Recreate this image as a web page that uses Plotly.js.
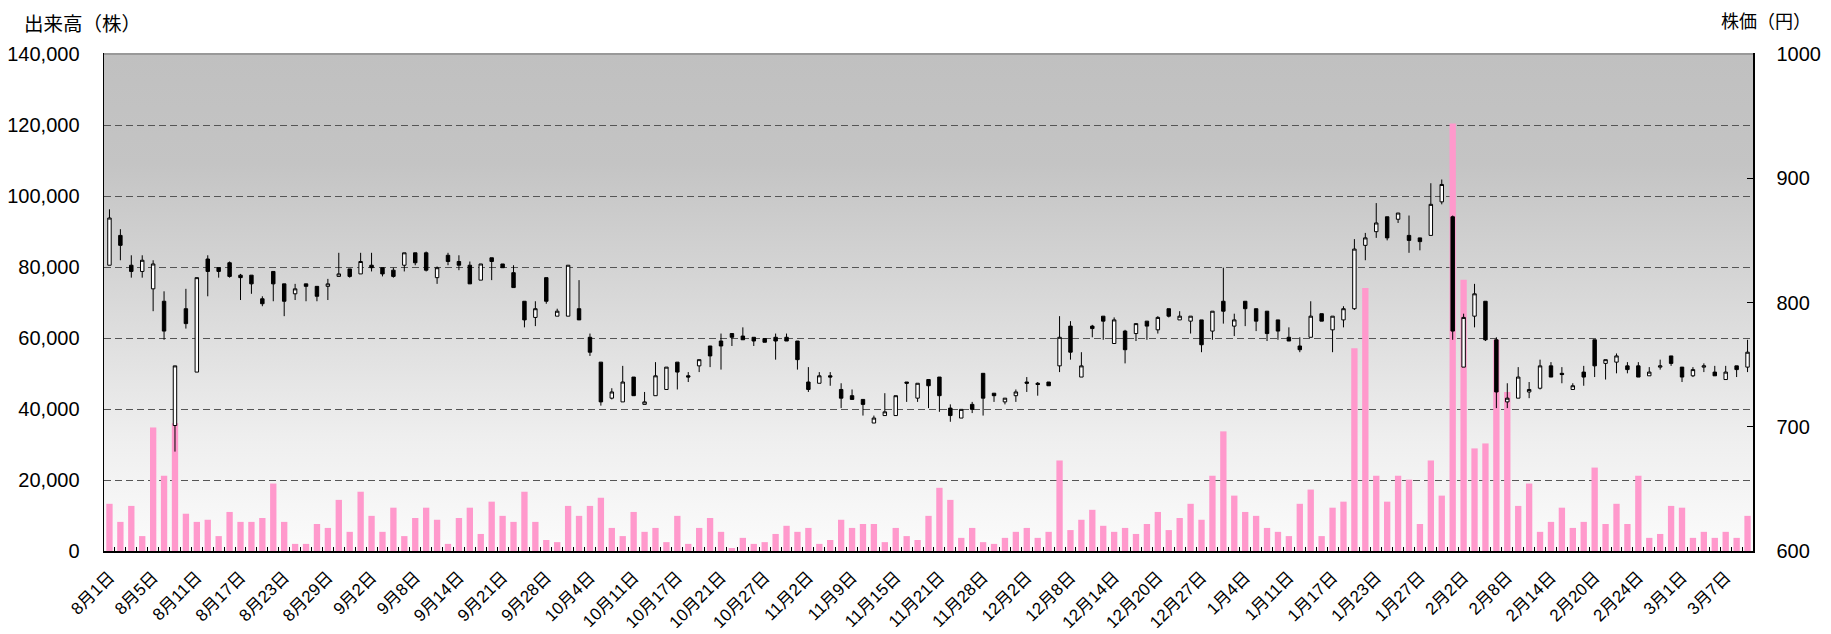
<!DOCTYPE html>
<html>
<head>
<meta charset="utf-8">
<script src="https://cdn.plot.ly/plotly-3.0.1.min.js"></script>
<style>html,body{margin:0;padding:0;background:#fff;}#chart{width:1831px;height:634px;}</style>
</head>
<body>
<div id="chart"></div>
<script>
// Trading days (Aug 2011 - Mar 2012)
const dates = [
"8月1日","8月2日","8月3日","8月4日","8月5日","8月8日","8月9日","8月10日","8月11日","8月12日",
"8月15日","8月16日","8月17日","8月18日","8月19日","8月22日","8月23日","8月24日","8月25日","8月26日",
"8月29日","8月30日","8月31日","9月1日","9月2日","9月5日","9月6日","9月7日","9月8日","9月9日",
"9月12日","9月13日","9月14日","9月15日","9月16日","9月20日","9月21日","9月22日","9月26日","9月27日",
"9月28日","9月29日","9月30日","10月3日","10月4日","10月5日","10月6日","10月7日","10月11日","10月12日",
"10月13日","10月14日","10月17日","10月18日","10月19日","10月20日","10月21日","10月24日","10月25日","10月26日",
"10月27日","10月28日","10月31日","11月1日","11月2日","11月4日","11月7日","11月8日","11月9日","11月10日",
"11月11日","11月14日","11月15日","11月16日","11月17日","11月18日","11月21日","11月22日","11月24日","11月25日",
"11月28日","11月29日","11月30日","12月1日","12月2日","12月5日","12月6日","12月7日","12月8日","12月9日",
"12月12日","12月13日","12月14日","12月15日","12月16日","12月19日","12月20日","12月21日","12月22日","12月26日",
"12月27日","12月28日","12月29日","12月30日","1月4日","1月5日","1月6日","1月10日","1月11日","1月12日",
"1月13日","1月16日","1月17日","1月18日","1月19日","1月20日","1月23日","1月24日","1月25日","1月26日",
"1月27日","1月30日","1月31日","2月1日","2月2日","2月3日","2月6日","2月7日","2月8日","2月9日",
"2月10日","2月13日","2月14日","2月15日","2月16日","2月17日","2月20日","2月21日","2月22日","2月23日",
"2月24日","2月27日","2月28日","2月29日","3月1日","3月2日","3月5日","3月6日","3月7日","3月8日",
"3月9日"
];
const openP = [
830,854,830,825,811,801,701,795,744,835, 828,832,822,822,803,825,815,807,815,813,
813,821,827,823,830,828,826,830,840,840, 820,838,833,830,818,836,831,824,801,788,
820,789,789,795,772,752,723,720,740,718, 725,730,752,741,749,765,769,775,773,772,
771,772,772,769,736,735,741,730,725,722, 703,709,709,736,723,738,740,715,707,718,
743,727,720,725,736,735,736,749,781,740, 781,789,767,777,775,785,778,795,786,785,
786,777,801,781,801,795,793,786,772,765, 772,791,778,786,795,846,857,869,867,854,
852,854,881,869,748,789,801,770,720,723, 728,731,749,743,730,744,770,751,752,749,
749,741,748,757,748,741,748,744,738,749, 748
];
const highP = [
875,859,838,838,834,809,749,811,820,838, 828,833,823,822,805,825,815,815,815,813,
819,840,827,840,840,828,828,840,840,841, 829,840,838,833,831,836,831,830,801,801,
820,795,830,818,775,752,731,749,740,728, 752,748,752,744,754,765,775,775,780,772,
771,775,775,769,748,744,744,735,730,722, 709,727,725,736,735,738,740,718,714,720,
743,727,723,730,740,736,736,789,785,760, 782,789,788,778,783,785,789,795,793,789,
786,793,828,791,801,795,793,786,780,772, 801,791,789,797,851,856,880,869,872,870,
852,896,899,870,791,815,801,772,735,748, 736,754,752,748,735,749,770,754,759,752,
752,748,754,757,748,748,751,749,749,749, 770
];
const lowP = [
830,834,820,820,793,770,680,779,744,805, 820,820,802,807,797,801,789,802,801,801,
802,821,820,823,825,821,820,825,830,825, 815,830,826,815,818,818,828,812,780,781,
799,789,789,786,757,717,722,720,725,718, 725,730,730,736,744,748,746,765,770,765,
768,754,769,746,728,735,733,715,722,709, 703,709,709,720,720,715,712,704,707,711,
709,720,718,720,728,725,733,744,754,740, 772,770,767,751,769,770,775,788,786,775,
760,770,783,773,781,777,769,770,769,760, 772,785,760,780,794,834,852,850,864,840,
842,854,879,770,748,780,769,715,715,723, 723,730,740,735,730,733,740,738,743,743,
740,741,746,749,736,740,744,741,738,740, 744
];
const closeP = [
868,846,825,834,831,777,749,783,820,825, 825,821,820,815,799,815,801,811,813,805,
815,823,821,833,828,823,821,840,832,826, 828,833,830,815,831,833,828,812,786,795,
801,793,830,786,760,720,728,736,725,720, 741,748,744,740,754,757,765,772,770,769,
768,769,769,754,730,741,740,723,722,718, 707,712,725,735,735,733,725,709,714,714,
723,725,723,728,735,734,733,772,760,749, 779,785,786,762,783,781,788,789,789,789,
766,793,793,786,795,785,775,777,769,762, 789,785,789,795,843,852,864,852,872,850,
849,879,895,777,788,807,770,728,723,740, 730,749,740,742,733,740,749,754,757,746,
740,744,749,751,740,746,749,741,744,746, 760
];
const volume = [
13300,8200,12700,4200,34800,21200,36000,10500,8200,8800, 4200,11000,8200,8200,9300,19000,8200,2000,2000,7600,
6500,14400,5400,16700,9900,5400,12200,4200,9300,12200, 8800,2000,9300,12200,4800,13900,9900,8200,16700,8200,
3100,2500,12700,9900,12700,15000,6500,4200,11000,5400, 6500,2500,9900,2000,6500,9300,5400,850,3700,2000,
2500,4800,7100,5400,6500,2000,3100,8800,6500,7600, 7600,2500,6500,4200,3100,9900,17800,14400,3700,6500,
2500,2000,3700,5400,6500,3700,5400,25500,5900,8800, 11600,7100,5400,6500,4800,7600,11000,5900,9300,13300,
8800,21200,33700,15600,11000,9900,6500,5400,4200,13300, 17300,4200,12200,13900,57100,74100,21200,13900,21200,20100,
7600,25500,15600,120400,76400,28900,30300,59500,44800,12700, 19000,5400,8200,12200,6500,8200,23500,7600,13300,7600,
21200,3700,4800,12700,12200,3700,5400,3700,5400,3700, 9900
];
const volTicks = [0,20000,40000,60000,80000,100000,120000,140000];
const priceTicks = [600,700,800,900,1000];
const volTitle = "出来高（株）";
const priceTitle = "株価（円）";

const FONT = "'Liberation Sans', 'Noto Sans CJK JP', sans-serif";
const gradSvg = "<svg xmlns='http://www.w3.org/2000/svg' width='100' height='100' preserveAspectRatio='none'>" +
  "<defs><linearGradient id='g' x1='0' y1='0' x2='0' y2='1'>" +
  "<stop offset='0' stop-color='#c0c0c0'/><stop offset='0.22' stop-color='#c4c4c4'/>" +
  "<stop offset='0.5' stop-color='#d9d9d9'/><stop offset='0.78' stop-color='#efefef'/>" +
  "<stop offset='1' stop-color='#fbfbfb'/></linearGradient></defs>" +
  "<rect width='100' height='100' fill='url(#g)'/></svg>";
const gradSrc = "data:image/svg+xml;base64," + btoa(gradSvg);

const volTrace = {
  type: "bar", x: dates, y: volume, xaxis: "x", yaxis: "y",
  marker: {color: "#ff99cc", line: {width: 0}}, hoverinfo: "skip", showlegend: false
};
const candleTrace = {
  type: "candlestick", x: dates, open: openP, high: highP, low: lowP, close: closeP,
  xaxis: "x", yaxis: "y2", whiskerwidth: 0, showlegend: false,
  increasing: {line: {color: "#000000", width: 1}, fillcolor: "#ffffff"},
  decreasing: {line: {color: "#000000", width: 1}, fillcolor: "#000000"}
};

const layout = {
  width: 1831, height: 634,
  margin: {l: 104, r: 78, t: 54, b: 83, pad: 0},
  paper_bgcolor: "#ffffff", plot_bgcolor: "rgba(0,0,0,0)",
  bargap: 0.42, boxgap: 0.55,
  font: {family: FONT, color: "#000", size: 20},
  showlegend: false,
  xaxis: {
    type: "category", range: [-0.5, dates.length - 0.5],
    tickvals: dates, ticktext: dates.map((d, i) => (i % 4 === 0 ? d : "")),
    tickangle: -45, tickfont: {size: 17, family: FONT}, ticklabelstandoff: 8,
    ticks: "inside", ticklen: 4, tickcolor: "#000", tickson: "boundaries",
    showgrid: false, showline: true, linecolor: "#000", linewidth: 1.5, mirror: true,
    rangeslider: {visible: false}, fixedrange: true
  },
  yaxis: {
    range: [0, 140000], tickvals: volTicks, ticktext: volTicks.map(v => v.toLocaleString("en-US")),
    showgrid: true, gridcolor: "#555555", gridwidth: 1, griddash: "7px,4px",
    zeroline: false, ticks: "", ticklabelstandoff: 19, tickfont: {size: 20},
    showline: true, linecolor: "#000", linewidth: 1.5, fixedrange: true
  },
  yaxis2: {
    overlaying: "y", side: "right", range: [600, 1000], tickvals: priceTicks,
    showgrid: false, zeroline: false, ticks: "inside", ticklen: 6, tickcolor: "#000",
    ticklabelstandoff: 18, tickfont: {size: 20},
    showline: true, linecolor: "#000", linewidth: 1.5, fixedrange: true
  },
  images: [{
    source: gradSrc, xref: "paper", yref: "paper", x: 0, y: 1, sizex: 1, sizey: 1,
    xanchor: "left", yanchor: "top", sizing: "stretch", layer: "below"
  }],
  shapes: [
    {type: "line", xref: "paper", yref: "paper", x0: 0, x1: 1, y0: 1, y1: 1,
     line: {color: "#999999", width: 2}, layer: "above"}
  ],
  annotations: [
    {text: volTitle, xref: "paper", yref: "paper", x: -0.05, y: 1.064, xanchor: "left", yanchor: "middle",
     showarrow: false, font: {size: 19.5, family: "'Noto Sans CJK JP', sans-serif"}},
    {text: priceTitle, xref: "paper", yref: "paper", x: 1.0364, y: 1.068, xanchor: "right", yanchor: "middle",
     showarrow: false, font: {size: 18, family: "'Noto Sans CJK JP', sans-serif"}}
  ]
};

Plotly.newPlot("chart", [volTrace, candleTrace], layout, {displayModeBar: false, staticPlot: true});
</script>
</body>
</html>
